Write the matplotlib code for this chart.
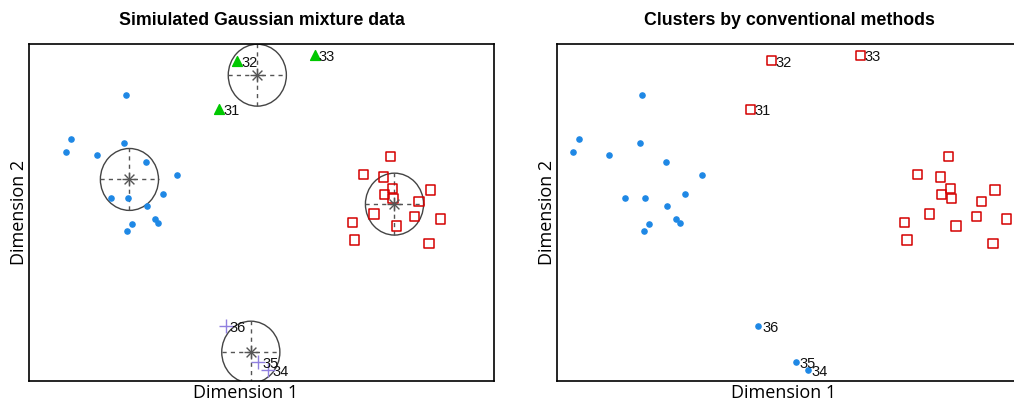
import numpy as np
import matplotlib.pyplot as plt
from matplotlib.patches import Ellipse

# cluster 1 (blue dots)
blue_x = [-2.92, -4.10, -4.21, -2.96, -3.54, -2.49, -1.81, -3.24, -2.88, -2.12, -2.46, -2.29, -2.23, -2.79, -2.89]
blue_y = [2.53, 1.57, 1.31, 1.50, 1.24, 1.09, 0.81, 0.32, 0.32, 0.40, 0.15, -0.15, -0.22, -0.24, -0.39]

# cluster 2 (red squares)
red_x = [2.77, 2.19, 2.63, 2.81, 2.64, 2.83, 3.64, 3.39, 2.42, 3.29, 3.85, 1.95, 2.91, 2.00, 3.60]
red_y = [1.20, 0.82, 0.76, 0.52, 0.38, 0.30, 0.48, 0.23, -0.03, -0.09, -0.14, -0.21, -0.29, -0.59, -0.67]

# small clusters (labelled points)
green_lab = ["31", "32", "33"]
green_x = [-0.91, -0.52, 1.14]
green_y = [2.22, 3.26, 3.38]

purple_lab = ["34", "35", "36"]
purple_x = [0.15, -0.07, -0.77]
purple_y = [-3.39, -3.21, -2.43]

# mixture component centres
centre_x = [-2.84, 2.86, -0.09, -0.23]
centre_y = [0.71, 0.18, 2.95, -3.00]
rad_x = 0.625
rad_y = 0.665

BLUE = "#1E88E5"
RED = "#D40000"
GREEN = "#00C800"
PURPLE = "#9080E0"
GREY = "#555555"

plt.rcParams['font.family'] = ['Liberation Sans', 'DejaVu Sans']

fig = plt.figure(figsize=(10.14, 4.05), dpi=100)
W, H = 1014, 405
ax1 = fig.add_axes([29 / W, (H - 381) / H, 465 / W, 337 / H])
ax2 = fig.add_axes([557 / W, (H - 381) / H, 465 / W, 337 / H])


def label(ax, xs, ys, labs):
    for x, y, s in zip(xs, ys, labs):
        ax.annotate(s, (x, y), xytext=(3, -1.5), textcoords='offset points',
                    ha='left', va='center', fontsize=10.5, color='#111111')


def style(ax, title, xlim, xlab_pos):
    ax.set_xlim(*xlim)
    ax.set_ylim(-3.62, 3.62)
    ax.set_xticks([])
    ax.set_yticks([])
    for sp in ax.spines.values():
        sp.set_linewidth(1.2)
    ax.set_title(title, fontsize=12.8, fontweight='bold', pad=14)
    ax.set_xlabel("Dimension 1", fontsize=13, family='Open Sans')
    ax.xaxis.set_label_coords(xlab_pos, -0.008)
    ax.set_ylabel("Dimension 2", fontsize=13, family='Open Sans', labelpad=1)


# left: simulated mixture with component circles
ax = ax1
for cx, cy in zip(centre_x, centre_y):
    ax.add_patch(Ellipse((cx, cy), 2 * rad_x, 2 * rad_y, fill=False, ec='#444444', lw=1.0))
    ax.plot([cx - rad_x, cx + rad_x], [cy, cy], ls=(0, (3, 3)), color=GREY, lw=1.0)
    ax.plot([cx, cx], [cy - rad_y, cy + rad_y], ls=(0, (3, 3)), color=GREY, lw=1.0)
ax.scatter(centre_x, centre_y, marker='+', s=90, color=GREY, lw=1.0, zorder=4)
ax.scatter(centre_x, centre_y, marker='x', s=50, color=GREY, lw=1.0, zorder=4)

ax.scatter(blue_x, blue_y, s=14, color=BLUE, zorder=3)
ax.scatter(red_x, red_y, s=45, marker='s', facecolors='none', edgecolors=RED, lw=1.1, zorder=3)
ax.scatter(green_x, green_y, s=50, marker='^', color=GREEN, zorder=3)
ax.scatter(purple_x, purple_y, s=90, marker='+', color=PURPLE, lw=1.0, zorder=3)
label(ax, green_x, green_y, green_lab)
label(ax, purple_x, purple_y, purple_lab)
style(ax, "Simiulated Gaussian mixture data", (-5.0, 5.0), 0.466)

# right: two clusters found by conventional methods
ax = ax2
ax.scatter(blue_x + purple_x, blue_y + purple_y, s=14, color=BLUE, zorder=3)
ax.scatter(red_x + green_x, red_y + green_y, s=45, marker='s', facecolors='none', edgecolors=RED, lw=1.1, zorder=3)
label(ax, green_x, green_y, green_lab)
label(ax, purple_x, purple_y, purple_lab)
style(ax, "Clusters by conventional methods", (-4.51, 4.14), 0.488)

fig.savefig("out.png", dpi=100)
